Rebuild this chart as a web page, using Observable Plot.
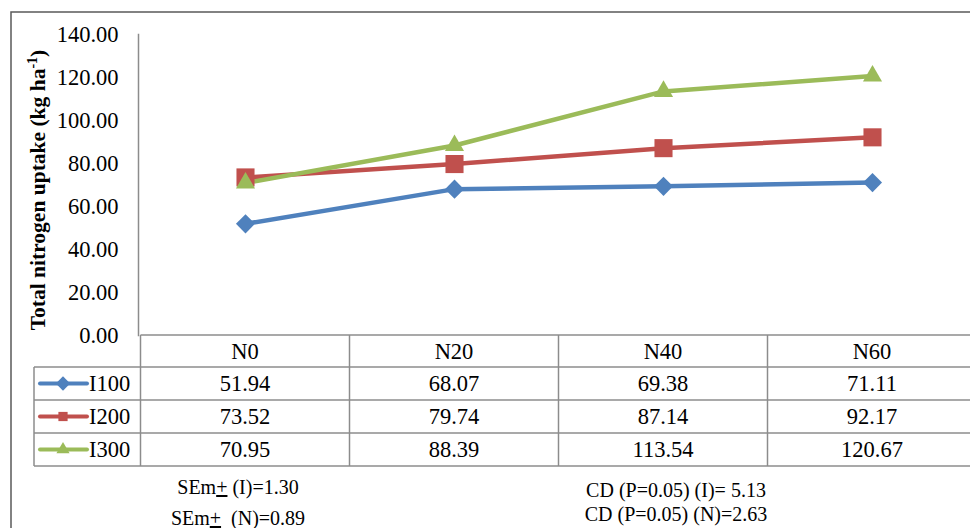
<!DOCTYPE html>
<html><head><meta charset="utf-8">
<script src="https://cdn.jsdelivr.net/npm/d3@7"></script>
<script src="https://cdn.jsdelivr.net/npm/@observablehq/plot@0.6"></script>
<style>
body{margin:0;background:#fff}
#chart svg{display:block}
</style>
</head><body><div id="chart"></div>
<script>
// ---- data ----
const categories = ["N0", "N20", "N40", "N60"];
const seriesNames = ["I100", "I200", "I300"];
const I100 = [51.94, 68.07, 69.38, 71.11];
const I200 = [73.52, 79.74, 87.14, 92.17];
const I300 = [70.95, 88.39, 113.54, 120.67];
const yTicks = [0, 20, 40, 60, 80, 100, 120, 140];
const seriesColors = ["#4F81BD", "#C0504D", "#9BBB59"];
const seriesSymbols = ["diamond2", "square", "triangle"];
const semLabels = [" (I)=1.30", "  (N)=0.89"];
const cdLabels = ["CD (P=0.05) (I)= 5.13", "CD (P=0.05) (N)=2.63"];
const yTitle = "Total nitrogen uptake (kg ha";

const seriesValues = [I100, I200, I300];
const rows = seriesNames.flatMap((s, i) =>
  seriesValues[i].map((v, j) => ({series: s, cat: categories[j], value: v})));

const FONT = "'Liberation Serif', 'Times New Roman', serif";
const GRID = "#8c8c8c";

// table, legend, texts, border
function decorations(index, scales, values, dims) {
  const x = scales.x;
  const step = x(categories[1]) - x(categories[0]);
  const left = x(categories[0]) - step / 2;
  const right = x(categories[categories.length - 1]) + step / 2;
  const g = d3.create("svg:g").attr("font-family", FONT).attr("fill", "#000");
  const yAxisBottom = dims.height - dims.marginBottom; // 335
  const rowLines = [367, 400, 433, 466];
  const legendLeft = 34;
  // outer border
  g.append("rect").attr("x", 11).attr("y", 12).attr("width", 990).attr("height", 560)
    .attr("fill", "none").attr("stroke", "#5a5a5a").attr("stroke-width", 1.5);
  // horizontal grid
  g.append("line").attr("x1", left).attr("x2", right).attr("y1", yAxisBottom).attr("y2", yAxisBottom)
    .attr("stroke", GRID).attr("stroke-width", 1.5);
  for (const y of rowLines) {
    g.append("line").attr("x1", legendLeft).attr("x2", right).attr("y1", y).attr("y2", y)
      .attr("stroke", GRID).attr("stroke-width", 1.5);
  }
  // vertical grid
  for (let k = 0; k <= categories.length; k++) {
    const xx = left + k * step;
    g.append("line").attr("x1", xx).attr("x2", xx).attr("y1", yAxisBottom).attr("y2", 466)
      .attr("stroke", GRID).attr("stroke-width", 1.5);
  }
  g.append("line").attr("x1", legendLeft).attr("x2", legendLeft).attr("y1", 367).attr("y2", 466)
    .attr("stroke", GRID).attr("stroke-width", 1.5);
  // header row
  const fs = 22.5;
  categories.forEach(c => {
    g.append("text").attr("x", x(c)).attr("y", 351).attr("dy", "0.35em")
      .attr("text-anchor", "middle").attr("font-size", fs).text(c);
  });
  // value rows + legend
  const rowCenters = rowLines.slice(0, 3).map((y, i) => (y + rowLines[i + 1]) / 2);
  seriesNames.forEach((s, i) => {
    const cy = rowCenters[i];
    const col = scales.color(s);
    g.append("line").attr("x1", 40).attr("x2", 87).attr("y1", cy).attr("y2", cy)
      .attr("stroke", col).attr("stroke-width", 4).attr("stroke-linecap", "round");
    const symType = [d3.symbolDiamond2, d3.symbolSquare, d3.symbolTriangle][i];
    const symSize = [130, 85, 75][i];
    g.append("path").attr("d", d3.symbol().type(symType).size(symSize)())
      .attr("transform", `translate(63,${cy})`).attr("fill", col);
    g.append("text").attr("x", 89).attr("y", cy).attr("dy", "0.35em")
      .attr("text-anchor", "start").attr("font-size", fs).text(s);
    seriesValues[i].forEach((v, j) => {
      g.append("text").attr("x", x(categories[j])).attr("y", cy).attr("dy", "0.35em")
        .attr("text-anchor", "middle").attr("font-size", fs).text(v.toFixed(2));
    });
  });
  // statistics
  const semY = [487, 518];
  semLabels.forEach((lab, i) => {
    const t = g.append("text").attr("x", 238).attr("y", semY[i]).attr("dy", "0.35em")
      .attr("text-anchor", "middle").attr("font-size", 20).attr("xml:space", "preserve")
      .style("white-space", "pre");
    t.append("tspan").text("SEm");
    t.append("tspan").attr("text-decoration", "underline").style("text-decoration", "underline").text("+");
    t.append("tspan").text(lab);
  });
  const cdY = [490, 514];
  cdLabels.forEach((lab, i) => {
    g.append("text").attr("x", 676).attr("y", cdY[i]).attr("dy", "0.35em")
      .attr("text-anchor", "middle").attr("font-size", 20).text(lab);
  });
  // y-axis title
  const tt = g.append("text").attr("transform", "translate(45,190) rotate(-90)")
    .attr("text-anchor", "middle").attr("font-size", 21.5).attr("font-weight", "bold");
  tt.append("tspan").text(yTitle);
  tt.append("tspan").attr("font-size", 14).attr("dy", -8).text("-1");
  tt.append("tspan").attr("dy", 8).text(")");
  return g.node();
}

const dotMarks = seriesNames.map((s, i) =>
  Plot.dot(rows.filter(d => d.series === s), {
    x: "cat", y: "value", fill: "series", symbol: () => seriesSymbols[i],
    r: [8.6, 10.2, 7.1][i], stroke: "none"
  }));

const chart = Plot.plot({
  width: 970,
  height: 528,
  marginLeft: 138,
  marginTop: 34,
  marginBottom: 193,
  marginRight: 0,
  style: {fontFamily: FONT, background: "#fff", color: "#000", overflow: "hidden"},
  x: {type: "point", domain: categories, range: [138.5, 977.5], padding: 0.5, axis: null},
  y: {domain: [0, 140], axis: null},
  color: {domain: seriesNames, range: seriesColors},
  symbol: {domain: seriesSymbols, range: seriesSymbols},
  marks: [
    decorations,
    Plot.frame({anchor: "left", stroke: GRID, strokeWidth: 1.5}),
    Plot.axisY({ticks: yTicks, tickFormat: d => d.toFixed(2), tickSize: 0, tickPadding: 20,
      fontSize: 22.5, fill: "#000", label: null}),
    Plot.line(rows, {x: "cat", y: "value", z: "series", stroke: "series", strokeWidth: 4.5,
      strokeLinejoin: "round"}),
    ...dotMarks
  ]
});
document.getElementById("chart").appendChild(chart);
</script>
</body></html>
